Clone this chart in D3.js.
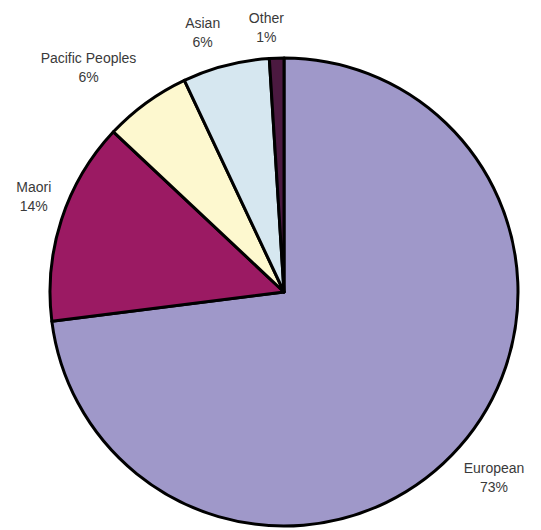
<!DOCTYPE html>
<html>
<head>
<meta charset="utf-8">
<script src="https://cdn.jsdelivr.net/npm/d3@7"></script>
<style>
  body { margin: 0; background: #fff; }
  text { font-family: "Liberation Sans", Arial, sans-serif; }
</style>
</head>
<body>
<script>

const groups  = ["European", "Maori", "Pacific Peoples", "Asian", "Other"];
const shares  = [73, 14, 6, 6, 1];
const colours = ["#9f98c9", "#9b1a63", "#fdf8cf", "#d6e7f0", "#4b1940"];

function draw () {
    const width  = 541;
    const height = 530;
    const cx = 284, cy = 292;
    const radius = 234;

    const svg = d3.select('body').append('svg')
        .attr('width', width)
        .attr('height', height);

    const data = groups.map((g, i) => ({ name: g, value: shares[i], colour: colours[i] }));

    const pie = d3.pie()
        .value(d => d.value)
        .sort(null);

    const arc = d3.arc()
        .innerRadius(0)
        .outerRadius(radius);

    const g = svg.append('g')
        .attr('transform', `translate(${cx} ${cy})`);

    const slices = pie(data);

    g.selectAll('path')
        .data(slices)
        .join('path')
        .attr('d', arc)
        .attr('fill', d => d.data.colour)
        .attr('stroke', '#000')
        .attr('stroke-width', 3)
        .attr('stroke-linejoin', 'round');

    // label placement: angle nudge (degrees) and distance from centre
    const nudge = {
        "European":        [0, 280],
        "Maori":           [3, 268],
        "Pacific Peoples": [-5, 298],
        "Asian":           [-3, 272],
        "Other":           [-2, 266]
    };
    const labelPos = d => {
        const [da, r] = nudge[d.data.name];
        const a = (d.startAngle + d.endAngle) / 2 + da * Math.PI / 180;
        return [r * Math.sin(a), -r * Math.cos(a)];
    };

    const labels = g.selectAll('text.lbl')
        .data(slices)
        .join('text')
        .attr('class', 'lbl')
        .attr('text-anchor', 'middle')
        .attr('font-size', 14)
        .attr('fill', '#3a3a3a')
        .attr('transform', d => `translate(${labelPos(d)})`);

    labels.append('tspan')
        .attr('x', 0)
        .attr('y', -4)
        .text(d => d.data.name);

    labels.append('tspan')
        .attr('x', 0)
        .attr('y', 15)
        .text(d => d.data.value + '%');
}

draw();
</script>
</body>
</html>
